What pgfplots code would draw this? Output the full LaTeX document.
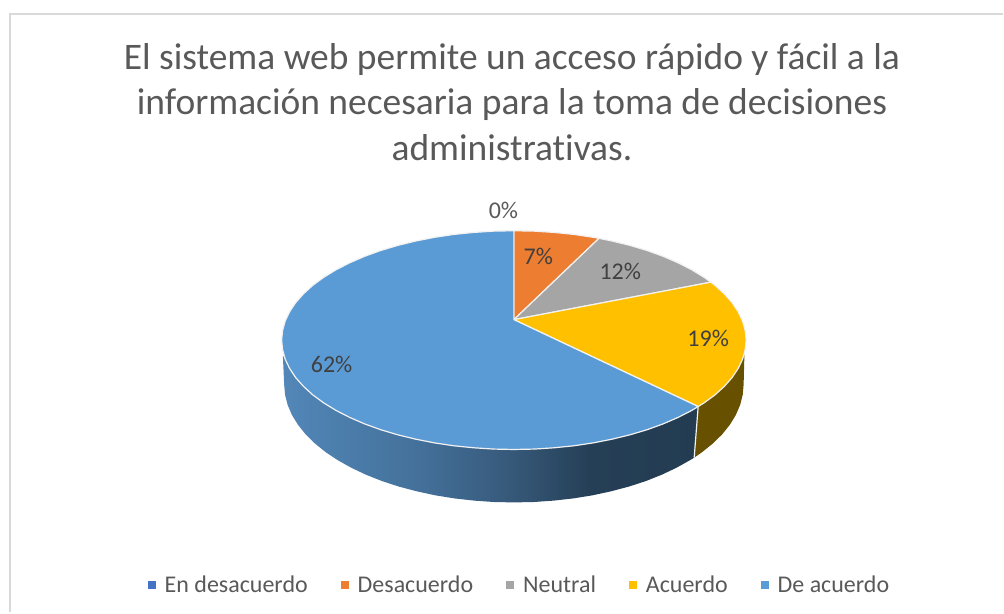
\documentclass[border=0pt]{standalone}
\usepackage{fontspec}
\setmainfont[Ligatures=NoCommon]{Carlito}
\usepackage{pgfplots}
\pgfplotsset{compat=1.18}
\definecolor{pieBlue}{HTML}{5B9BD5}
\definecolor{pieOrange}{HTML}{ED7D31}
\definecolor{pieGray}{HTML}{A5A5A5}
\definecolor{pieYellow}{HTML}{FFC000}
\definecolor{pieNavy}{HTML}{4472C4}
\definecolor{sideBrown}{HTML}{675000}
\definecolor{txtGray}{HTML}{595959}
\definecolor{lblGray}{HTML}{404040}
\definecolor{sepGray}{HTML}{F2F2F2}
\definecolor{frameGray}{HTML}{D9D9D9}
\definecolor{s0}{HTML}{5287B8}
\definecolor{s1}{HTML}{44719B}
\definecolor{s2}{HTML}{375A7B}
\definecolor{s3}{HTML}{253F56}
\definecolor{s4}{HTML}{233C52}
\pgfdeclarehorizontalshading{sideblue}{100bp}{
  color(0bp)=(s0);
  color(25bp)=(s0);
  color(41bp)=(s1);
  color(52bp)=(s2);
  color(62bp)=(s3);
  color(75bp)=(s4);
  color(100bp)=(s4)}
\begin{document}
\begin{tikzpicture}
\begin{axis}[
  scale only axis,
  width=1004pt,
  height=613pt,
  xmin=0, xmax=1004,
  ymin=0, ymax=613,
  y dir=reverse,
  hide axis,
  clip=false,
  every axis plot/.append style={forget plot},
  title={El sistema web permite un acceso rápido y fácil a la\\información necesaria para la toma de decisiones\\administrativas.},
  title style={at={(0.5105,0.925)},anchor=north,align=center,text=txtGray,
    font=\fontsize{37.5}{45.5}\selectfont},
  legend columns=5,
  legend cell align=left,
  legend style={at={(0.518,0.044)},anchor=center,draw=none,fill=none,
    font=\fontsize{24}{27}\selectfont,text=txtGray,
    /tikz/every even column/.append style={column sep=31pt},
    /tikz/every odd column/.append style={column sep=7pt},
    inner sep=0pt},
  legend image code/.code={\fill[draw=none,#1] (0pt,-4pt) rectangle (8pt,4pt);},
]
% keeps the page as large as the axis, hide axis does not
\addplot[draw=none] coordinates {(0,0) (1004,613)};
% chart frame
\addplot[frameGray, line width=2.4pt] coordinates {(10,613) (10,14) (1004,14)};

% side of the pie
\addplot[draw=none, shade, shading=sideblue] coordinates {
  (699,407) (692.6,410.9) (678.9,417.9) (663.9,424.4) (647.9,430.2) (630.8,435.3)
  (612.8,439.7) (594.0,443.4) (574.7,446.3) (554.9,448.3) (534.8,449.6) (514.5,450.0)
  (494.2,449.6) (474.1,448.3) (454.3,446.3) (435.0,443.4) (416.2,439.7) (398.2,435.3)
  (381.1,430.2) (365.1,424.4) (350.1,417.9) (336.4,410.9) (324.0,403.3) (313.1,395.3)
  (303.8,386.8) (296.0,378.0) (289.9,368.8) (285.5,359.5) (283.2,356)
  (284.5,385) (285.4,395.3) (288,405.5) (292.3,415.5) (298.4,425.4) (306,434.9)
  (315.3,444) (326.1,452.7) (338.3,460.8) (351.9,468.4) (366.7,475.4) (382.6,481.7)
  (399.5,487.2) (417.3,491.9) (435.8,495.9) (455,499) (474.6,501.2) (494.5,502.6)
  (514.5,503) (534.5,502.6) (554.4,501.2) (574,499) (593.2,495.9) (611.7,491.9)
  (629.5,487.2) (646.4,481.7) (662.3,475.4) (677.1,468.4) (690.7,460.8) (695,458.2)
} -- cycle;
\addplot[draw=none, fill=sideBrown] coordinates {
  (745.3,355) (743.5,359.5) (739.1,368.8) (733.0,378.0) (725.2,386.8) (715.9,395.3)
  (705.0,403.3) (699,407) (695,458.2) (702.9,452.7) (713.7,444.0) (723.0,434.9)
  (730.6,425.4) (736.7,415.5) (741.0,405.5) (743.6,395.3) (744.5,385)
} -- cycle;
\addplot[sepGray, line width=1.2pt] coordinates {(699,407) (695,458.2)};

% top of the pie
\addplot[fill=pieNavy, draw=pieNavy] coordinates {(514.5,320) (514.5,231) (514.5,231)} -- cycle;
\addplot[fill=pieOrange, draw=sepGray, line width=1.2pt] coordinates {
  (514.5,320) (514.5,231) (534.8,231.4) (554.9,232.7) (574.7,234.7) (594.0,237.6) (599.7,238.6)
} -- cycle;
\addplot[fill=pieGray, draw=sepGray, line width=1.2pt] coordinates {
  (514.5,320) (599.7,238.6) (612.8,241.3) (630.8,245.7) (647.9,250.8) (663.9,256.6)
  (678.9,263.1) (692.6,270.1) (705.0,277.7) (711.7,282.5)
} -- cycle;
\addplot[fill=pieYellow, draw=sepGray, line width=1.2pt] coordinates {
  (514.5,320) (711.7,282.5) (715.9,285.7) (725.2,294.2) (733.0,303.0) (739.1,312.2)
  (743.5,321.5) (746.1,331.0) (747.0,340.5) (746.1,350.0) (743.5,359.5) (739.1,368.8)
  (733.0,378.0) (725.2,386.8) (715.9,395.3) (705.0,403.3) (699,407)
} -- cycle;
\addplot[fill=pieBlue, draw=sepGray, line width=1.2pt] coordinates {
  (514.5,320) (699,407) (692.6,410.9) (678.9,417.9) (663.9,424.4) (647.9,430.2)
  (630.8,435.3) (612.8,439.7) (594.0,443.4) (574.7,446.3) (554.9,448.3) (534.8,449.6)
  (514.5,450.0) (494.2,449.6) (474.1,448.3) (454.3,446.3) (435.0,443.4) (416.2,439.7)
  (398.2,435.3) (381.1,430.2) (365.1,424.4) (350.1,417.9) (336.4,410.9) (324.0,403.3)
  (313.1,395.3) (303.8,386.8) (296.0,378.0) (289.9,368.8) (285.5,359.5) (282.9,350.0)
  (282.0,340.5) (282.9,331.0) (285.5,321.5) (289.9,312.2) (296.0,303.0) (303.8,294.2)
  (313.1,285.7) (324.0,277.7) (336.4,270.1) (350.1,263.1) (365.1,256.6) (381.1,250.8)
  (398.2,245.7) (416.2,241.3) (435.0,237.6) (454.3,234.7) (474.1,232.7) (494.2,231.4)
  (514.5,231.0)
} -- cycle;

% data labels
\node[font=\fontsize{24}{27}\selectfont, text=txtGray] at (axis cs:504,211) {0\%};
\node[font=\fontsize{24}{27}\selectfont, text=lblGray] at (axis cs:539,257) {7\%};
\node[font=\fontsize{24}{27}\selectfont, text=lblGray] at (axis cs:621,272) {12\%};
\node[font=\fontsize{24}{27}\selectfont, text=lblGray] at (axis cs:709,339) {19\%};
\node[font=\fontsize{24}{27}\selectfont, text=lblGray] at (axis cs:332,365) {62\%};

% legend
\addlegendimage{fill=pieNavy}
\addlegendentry{En desacuerdo}
\addlegendimage{fill=pieOrange}
\addlegendentry{Desacuerdo}
\addlegendimage{fill=pieGray}
\addlegendentry{Neutral}
\addlegendimage{fill=pieYellow}
\addlegendentry{Acuerdo}
\addlegendimage{fill=pieBlue}
\addlegendentry{De acuerdo}
\end{axis}
\end{tikzpicture}
\end{document}
